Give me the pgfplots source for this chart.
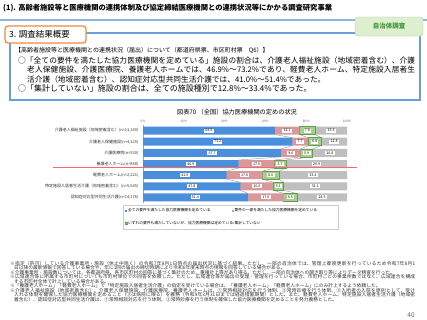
\documentclass[border=0pt]{standalone}
\usepackage{fontspec}
\setmainfont{Noto Sans CJK JP}
\usepackage{pgfplots}
\pgfplotsset{compat=1.18}
\usepackage{pgfplotstable}
\usetikzlibrary{patterns}
\pgfplotsset{/pgf/number format/assume math mode=true}
\definecolor{cblue}{HTML}{4A8FDB}
\definecolor{cpink}{HTML}{D9999A}
\definecolor{cgreen}{HTML}{A9D18E}
\definecolor{cgreenD}{HTML}{5FA04E}
\definecolor{cgray}{HTML}{BFBFBF}
\definecolor{frameblue}{HTML}{6A9FD8}
\definecolor{lineblue}{HTML}{8EB4E3}
\definecolor{corange}{HTML}{F08A3C}
\definecolor{boxgreen}{HTML}{DDEFCF}
\definecolor{txtgreen}{HTML}{3E9A3A}
\definecolor{redline}{HTML}{F26B6B}
\newcommand\fs[1]{\fontsize{#1bp}{#1bp}\selectfont}
\newcommand\jpar{\XeTeXlinebreaklocale "ja"\XeTeXlinebreakskip=0pt plus 1pt\parindent=0pt\parskip=0pt\lineskiplimit=-20bp\lineskip=0pt}
\pgfplotstableread{
y a b c d
7 64.6 12.1 7.8 15.5
6 73.2 7.7 6.4 12.8
5 67.7 9.6 5.9 16.8
4 46.9 17.5 5.7 29.9
3 41.0 17.6 8.0 33.4
2 47.8 16.0 5.1 31.1
1 51.4 17.6 6.5 24.5
}\data
% series lines: cumulative boundaries at bottom / top edge of each bar
\pgfplotstableread{
yy s1 s2 s3
6.641 64.6 76.7 84.5
6.359 73.2 80.9 87.3
5.641 73.2 80.9 87.3
5.359 67.7 77.3 83.2
4.641 67.7 77.3 83.2
4.359 46.9 64.4 70.1
3.641 46.9 64.4 70.1
3.359 41.0 58.6 66.6
2.641 41.0 58.6 66.6
2.359 47.8 63.8 68.9
1.641 47.8 63.8 68.9
1.359 51.4 69.0 75.5
}\slines
\begin{document}
\begin{tikzpicture}
\path[use as bounding box] (0,0) rectangle (427bp,-320bp);
\fill[white] (0,0) rectangle (427bp,-320bp);
\begin{scope}[x=1bp,y=-1bp]
\node[anchor=west,inner sep=0,font=\bfseries\fs{7.3}] at (3,8) {(1). 高齢者施設等と医療機関の連携体制及び協定締結医療機関との連携状況等にかかる調査研究事業};
\draw[lineblue,line width=1.2bp] (0,20)--(427,20);
\draw[frameblue,line width=1.3bp] (10,33) rectangle (420,100);
\draw[corange,line width=1.3bp,fill=white,rounded corners=3bp] (5,26) rectangle (86,43);
\node[anchor=west,inner sep=0,font=\fs{8.5}] at (9,34.5) {3. 調査結果概要};
\draw[boxgreen!80!black,fill=boxgreen,line width=0.3bp,rounded corners=3bp] (355,17) rectangle (423,36);
\node[inner sep=0,font=\bfseries\fs{6.5},text=txtgreen] at (389,26.5) {自治体調査};
\node[anchor=west,inner sep=0,font=\fs{6}] at (15,50) {【高齢者施設等と医療機関との連携状況（届出）について（都道府県票、市区町村票　Q6）】};
\node[anchor=north west,inner sep=0,text width=397bp,align=justify,font=\fontsize{7.7bp}{9.5bp}\selectfont] at (18,56.3) {\jpar\hangindent=9bp\hangafter=1 ○「全ての要件を満たした協力医療機関を定めている」施設の割合は、介護老人福祉施設（地域密着含む）、介護\linebreak 老人保健施設、介護医療院、養護老人ホームでは、46.9\%～73.2\%であり、軽費老人ホーム、特定施設入居者生\linebreak 活介護（地域密着含む）、認知症対応型共同生活介護では、41.0\%～51.4\%であった。\par};
\node[anchor=west,inner sep=0,font=\fs{8}] at (18,88.5) {○「集計していない」施設の割合は、全ての施設種別で12.8\%～33.4\%であった。};
\node[inner sep=0,font=\fs{6.2}] at (237,112) {図表70 （全国）協力医療機関の定めの状況};
\node[anchor=north west,inner sep=0,text width=405bp,align=justify,text=black!80,font=\fontsize{4.75bp}{4.46bp}\selectfont] at (10,261.1) {\jpar
\hangindent=4bp\hangafter=1 ※指定（許可）している介護事業所・施設（休止中除く）の令和7年8月1日時点の届出状況に基づく結果。ただし、一部の自治体では、管理上都度更新を行っているため令和7年8月1\linebreak 日以降の最新情報で回答している場合や、年に1回の届出の締切時期により令和6年度末時点の情報を回答している場合がある。\par
\hangindent=4bp\hangafter=1 ※介護事業所・施設数については、各都道府県、各市区町村の回答に基づく集計のため、重複計上等があり得る。ただし、一部の自治体への聞き取り等によりデータ精査を行った。\par
\hangindent=4bp\hangafter=1 ※広域連合等に所属する市町村についても市町村単位での回答を依頼した。ただし、広域連合等が届出の受理・管理を行っている場合、市町村ごとの事業所数ではなく、広域連合を構成\linebreak する市町村全体で計上している場合がある。\par
\hangindent=4bp\hangafter=1 ※「養護老人ホーム」「軽費老人ホーム」で「特定施設入居者生活介護」の指定を受けている場合は、「養護老人ホーム」「軽費老人ホーム」にのみ計上するよう依頼した。\par
\hangindent=4bp\hangafter=1 ※介護老人福祉施設（地域密着含む）、介護老人保健施設、介護医療院、養護老人ホームは、①常時相談対応を行う体制、②常時診療を行う体制、③入所者の入院を原則として、受け\linebreak 入れる体制を確保した協力医療機関を定めること（③は病院に限る）を義務（令和9年3月31日までは経過措置期間）とした。また、軽費老人ホーム、特定施設入居者生活介護（地域密\linebreak 着含む）、認知症対応型共同生活介護は、①常時相談対応を行う体制、②常時診療を行う体制を確保した協力医療機関を定めることを努力義務とした。\par};
\node[inner sep=0,font=\fs{6.5},text=black!60] at (411,315) {40};
\end{scope}
% series lines (behind the bars)
\begin{axis}[
  at={(143bp,-203bp)}, anchor=south west,
  scale only axis, width=204bp, height=78bp,
  xmin=0, xmax=100, ymin=0.5, ymax=7.5, hide axis,
]
\addplot[black!40, line width=0.4bp, mark=none] table[x=s1,y=yy]{\slines};
\addplot[black!40, line width=0.4bp, mark=none] table[x=s2,y=yy]{\slines};
\addplot[black!40, line width=0.4bp, mark=none] table[x=s3,y=yy]{\slines};
\end{axis}
\begin{axis}[
  at={(143bp,-203bp)}, anchor=south west,
  scale only axis, width=204bp, height=78bp,
  xbar stacked, bar width=8bp,
  xmin=0, xmax=100, ymin=0.5, ymax=7.5,
  axis x line*=top, x axis line style={draw=none},
  axis y line*=left, y axis line style={draw=black!35, line width=0.5bp},
  xtick={0,20,...,100}, xticklabel={\pgfmathprintnumber{\tick}\%},
  xticklabel style={font=\fs{3.2}, text=black!60, yshift=-1.5bp},
  major tick length=0pt,
  ytick={1,...,7},
  yticklabels={{認知症対応型共同生活介護(n=14,176)},{特定施設入居者生活介護（地域密着含む）(n=5,645)},{軽費老人ホーム(n=2,221)},{養護老人ホーム(n=848)},{介護医療院(n=530)},{介護老人保健施設(n=4,125)},{介護老人福祉施設（地域密着含む）(n=11,140)}},
  yticklabel style={font=\fs{4}, text=black!80, xshift=-1bp},
  legend columns=2,
  legend style={at={(-0.098,-0.0256)}, anchor=north west, draw=black!20, fill=white, font=\fs{3.75}, row sep=6.5bp, inner xsep=1.5bp, inner ysep=3bp, cells={anchor=west}, nodes={inner sep=0.5bp}},
  legend image code/.code={\draw[#1,draw=none] (0bp,-1.2bp) rectangle (2.4bp,1.2bp);},
]
\addplot[fill=cblue, draw=none] table[x=a,y=y]{\data};
\addlegendentry{\makebox[103bp][l]{全ての要件を満たした協力医療機関を定めている}}
\addplot[fill=cpink, draw=none] table[x=b,y=y]{\data};
\addlegendentry{\makebox[102bp][l]{要件の一部を満たした協力医療機関を定めている}}
\addplot[fill=cgreen, draw=cgreenD, line width=0.6bp, postaction={pattern=crosshatch dots, pattern color=cgreenD!60}] table[x=c,y=y]{\data};
\addlegendentry{\makebox[103bp][l]{いずれの要件も満たしていないが、協力医療機関は定めている}}
\addplot[fill=cgray, draw=none] table[x=d,y=y]{\data};
\addlegendentry{集計していない}
\end{axis}
\begin{axis}[
  at={(143bp,-203bp)}, anchor=south west,
  scale only axis, width=204bp, height=78bp,
  xmin=0, xmax=100, ymin=0.5, ymax=7.5, hide axis, clip=false,
  point meta=explicit,
  nodes near coords={\pgfmathprintnumber[fixed,fixed zerofill,precision=1]{\pgfplotspointmeta}},
  every node near coord/.style={anchor=center, fill=white, inner xsep=1.3bp, inner ysep=0.7bp, font=\fs{3.6}, text=black},
]
\addplot[draw=none, mark=none] table[x expr=\thisrow{a}/2, y=y, meta=a]{\data};
\addplot[draw=none, mark=none] table[x expr=\thisrow{a}+\thisrow{b}/2, y=y, meta=b]{\data};
\addplot[draw=none, mark=none] table[x expr=\thisrow{a}+\thisrow{b}+\thisrow{c}/2, y=y, meta=c]{\data};
\addplot[draw=none, mark=none] table[x expr=\thisrow{a}+\thisrow{b}+\thisrow{c}+\thisrow{d}/2, y=y, meta=d]{\data};
\end{axis}
\begin{scope}[x=1bp,y=-1bp]
\draw[redline,line width=1.3bp] (53,167.5)--(357,167.5);
\end{scope}
\end{tikzpicture}
\end{document}
